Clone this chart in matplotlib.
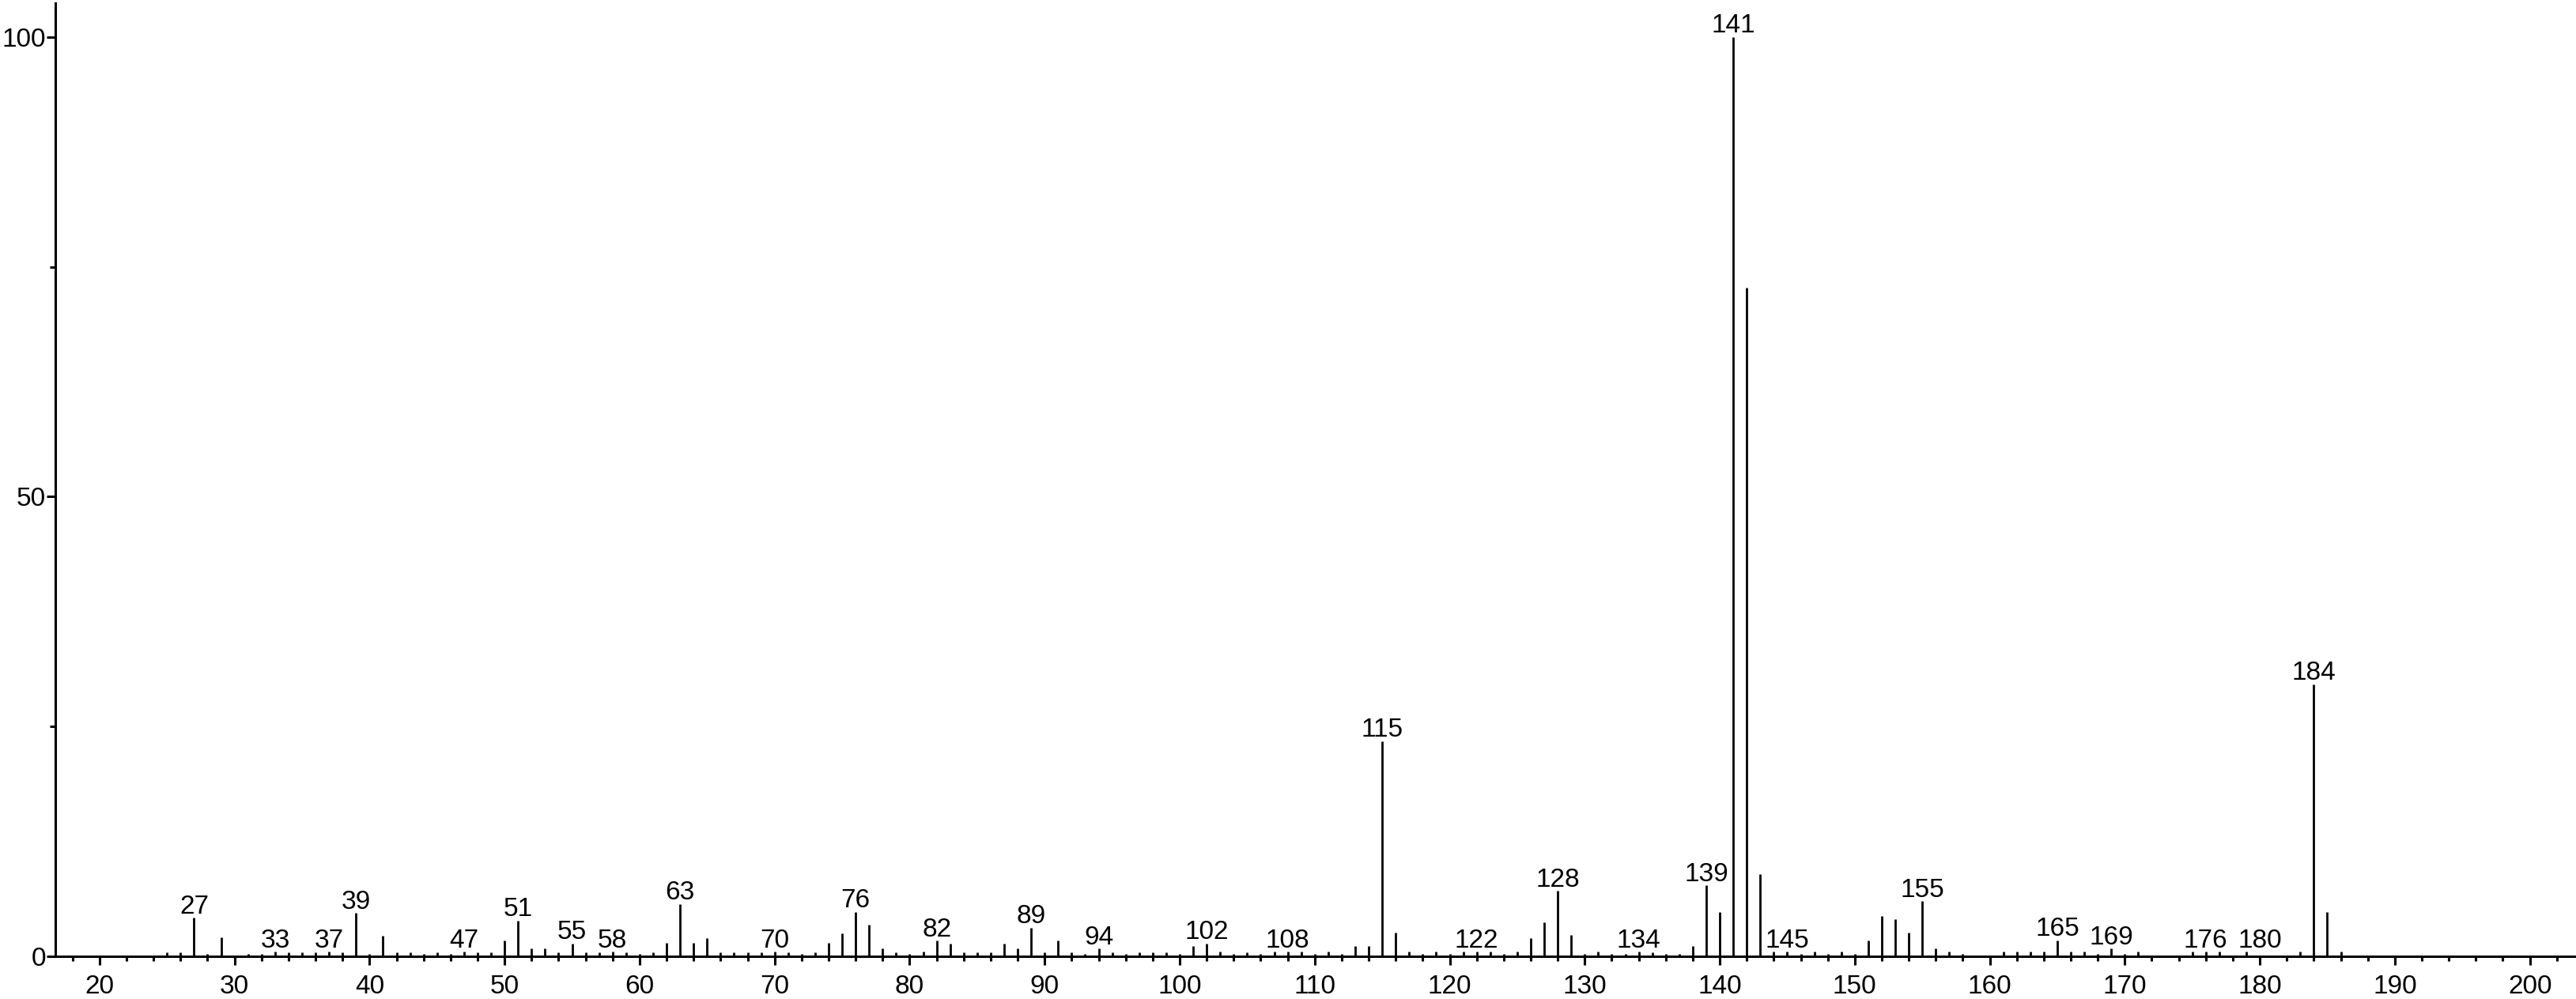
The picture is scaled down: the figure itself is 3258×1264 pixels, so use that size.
import matplotlib
matplotlib.use("Agg")
import matplotlib.pyplot as plt
from matplotlib.ticker import MultipleLocator

plt.rcParams.update({
    "font.family": ["Liberation Sans", "DejaVu Sans"],
    "font.size": 24,
})

# m/z values and relative intensities (%)
mz = [25, 26, 27, 28, 29, 31, 32, 33, 34, 35, 36, 37, 38, 39, 40, 41, 42, 43,
      44, 45, 46, 47, 48, 49, 50, 51, 52, 53, 54, 55, 56, 57, 58, 59, 60, 61,
      62, 63, 64, 65, 66, 67, 68, 69, 70, 71, 72, 73, 74, 75, 76, 77, 78, 79,
      80, 81, 82, 83, 84, 85, 86, 87, 88, 89, 90, 91, 92, 93, 94, 95, 96, 97,
      98, 99, 100, 101, 102, 103, 104, 105, 106, 107, 108, 109, 110, 111, 112,
      113, 114, 115, 116, 117, 118, 119, 120, 121, 122, 123, 124, 125, 126,
      127, 128, 129, 130, 131, 132, 133, 134, 135, 136, 137, 138, 139, 140,
      141, 142, 143, 144, 145, 146, 147, 148, 149, 150, 151, 152, 153, 154,
      155, 156, 157, 158, 161, 162, 163, 164, 165, 166, 167, 168, 169, 170,
      171, 175, 176, 177, 179, 183, 184, 185, 186]
intensity = [0.45, 0.45, 4.2, 0.3, 2.1, 0.3, 0.3, 0.5, 0.45, 0.45, 0.45, 0.5,
             0.45, 4.7, 0.3, 2.2, 0.45, 0.45, 0.3, 0.45, 0.3, 0.5, 0.45, 0.45,
             1.7, 3.9, 0.85, 0.85, 0.45, 1.4, 0.45, 0.45, 0.5, 0.45, 0.3, 0.45,
             1.45, 5.7, 1.45, 2.0, 0.45, 0.45, 0.45, 0.45, 0.5, 0.45, 0.3,
             0.45, 1.45, 2.5, 4.85, 3.4, 0.85, 0.45, 0.3, 0.5, 1.7, 1.4, 0.45,
             0.45, 0.45, 1.4, 0.85, 3.1, 0.45, 1.7, 0.45, 0.3, 0.85, 0.45,
             0.3, 0.45, 0.45, 0.45, 0.3, 1.15, 1.4, 0.5, 0.3, 0.45, 0.3, 0.5,
             0.5, 0.5, 0.3, 0.5, 0.3, 1.15, 1.15, 23.4, 2.6, 0.5, 0.3, 0.5,
             0.3, 0.5, 0.5, 0.5, 0.3, 0.5, 2.0, 3.7, 7.1, 2.3, 0.3, 0.5, 0.3,
             0.3, 0.5, 0.45, 0.3, 0.3, 1.15, 7.7, 4.8, 100.0, 72.7, 8.9, 0.5,
             0.5, 0.3, 0.5, 0.3, 0.5, 0.3, 1.75, 4.35, 4.0, 2.6, 6.0, 0.85,
             0.5, 0.3, 0.5, 0.5, 0.5, 0.5, 1.75, 0.5, 0.5, 0.3, 0.85, 0.3,
             0.5, 0.5, 0.5, 0.5, 0.5, 0.5, 29.6, 4.85, 0.5]
labelled = [27, 33, 37, 39, 47, 51, 55, 58, 63, 70, 76, 82, 89, 94, 102, 108,
            115, 122, 128, 134, 139, 141, 145, 155, 165, 169, 176, 180, 184]

W, H = 3258, 1264
fig = plt.figure(figsize=(W / 100, H / 100), dpi=100)
ax = fig.add_axes([70 / W, 54 / H, (3256 - 70) / W, 1206 / H])

ax.vlines(mz, 0, intensity, colors="black", lw=2.0)

height = dict(zip(mz, intensity))
for m in labelled:
    ax.annotate(str(m), (m, height.get(m, 0.5)), xytext=(0, 4),
                textcoords="offset points", ha="center", va="baseline")

ax.set_xlim(16.73, 203.3)
ax.set_ylim(0, 103.67)
for s in ("top", "right"):
    ax.spines[s].set_visible(False)
for s in ("left", "bottom"):
    ax.spines[s].set_linewidth(2.2)

ax.xaxis.set_major_locator(MultipleLocator(10))
ax.xaxis.set_minor_locator(MultipleLocator(2))
ax.yaxis.set_major_locator(MultipleLocator(50))
ax.yaxis.set_minor_locator(MultipleLocator(25))
ax.tick_params(axis="x", which="major", length=7.9, width=2.2, pad=8.4)
ax.tick_params(axis="x", which="minor", length=4.3, width=2.2)
ax.tick_params(axis="y", which="major", length=7.9, width=2.2, pad=0.6)
ax.tick_params(axis="y", which="minor", length=5, width=2.2)

fig.savefig("out.png", dpi=100)
